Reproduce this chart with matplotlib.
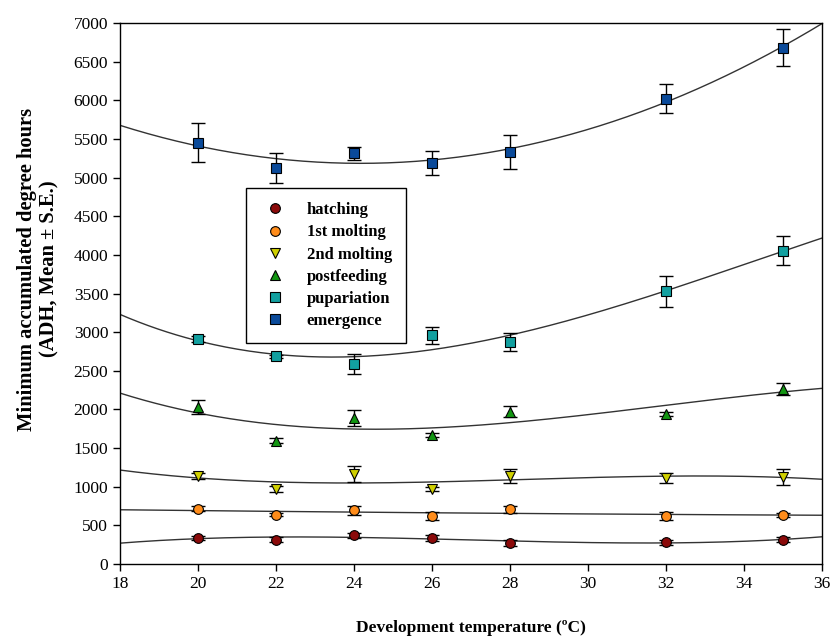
import numpy as np
import matplotlib.pyplot as plt

plt.rcParams['font.family'] = ['Liberation Serif', 'DejaVu Serif']

# Temperaturas de desarrollo (ºC)
temps = np.array([20, 22, 24, 26, 28, 32, 35])

# Medias de ADH por estadio
hatching = [338, 316, 373, 338, 272, 282, 316]
molting1 = [715, 636, 697, 623, 706, 623, 636]
molting2 = [1141, 970, 1167, 970, 1141, 1114, 1128]
postfeeding = [2037, 1596, 1895, 1667, 1973, 1939, 2267]
pupariation = [2911, 2686, 2587, 2957, 2876, 3528, 4054]
emergence = [5449, 5125, 5315, 5190, 5333, 6023, 6680]

# Errores estándar
err_hatching = [30, 30, 30, 40, 40, 30, 30]
err_molting1 = [30, 20, 60, 50, 40, 50, 30]
err_molting2 = [40, 40, 100, 30, 90, 70, 100]
err_postfeeding = [90, 30, 104, 30, 65, 30, 80]
err_pupariation = [43, 20, 127, 108, 114, 200, 188]
err_emergence = [253, 199, 82, 151, 218, 194, 237]

etiquetas = ['hatching', '1st molting', '2nd molting', 'postfeeding', 'pupariation', 'emergence']
series = [hatching, molting1, molting2, postfeeding, pupariation, emergence]
errores = [err_hatching, err_molting1, err_molting2, err_postfeeding, err_pupariation, err_emergence]
grados = [3, 2, 3, 3, 3, 2]  # orden del polinomio de ajuste
colores = ['#8B0A0A', '#FF8C1A', '#D0D000', '#129612', '#12A0A0', '#0A4A9A']
marcadores = ['o', 'o', 'v', '^', 's', 's']

fig = plt.figure(figsize=(8.3, 6.44), dpi=100)
ax = fig.add_axes([0.1446, 0.1242, 0.8458, 0.8401])

x_fit = np.linspace(18, 36, 300)
for y, e, g, c, m, lab in zip(series, errores, grados, colores, marcadores, etiquetas):
    coef = np.polyfit(temps, y, g)
    ax.plot(x_fit, np.polyval(coef, x_fit), color='#333333', lw=1.0, zorder=1)
    ax.errorbar(temps, y, yerr=e, fmt='none', ecolor='black', elinewidth=1.0,
                capsize=5, capthick=1.0, zorder=2)
    ax.plot(temps, y, linestyle='none', marker=m, markersize=7, markerfacecolor=c,
            markeredgecolor='black', markeredgewidth=0.8, label=lab, zorder=3)

ax.set_xlim(18, 36)
ax.set_ylim(0, 7000)
ax.set_xticks(np.arange(18, 37, 2))
ax.set_yticks(np.arange(0, 7001, 500))
ax.tick_params(labelsize=12.5, direction='out', length=5, width=1)
for s in ax.spines.values():
    s.set_linewidth(1.0)

ax.set_xlabel('Development temperature (ºC)', fontsize=12.5, fontweight='bold', labelpad=20)
ax.set_ylabel('Minimum accumulated degree hours\n(ADH, Mean ± S.E.)', fontsize=14.8,
              fontweight='bold', labelpad=10, y=0.545)

leg = ax.legend(loc='upper left', bbox_to_anchor=(0.179, 0.695), borderaxespad=0,
                prop={'weight': 'bold', 'size': 12}, frameon=True, fancybox=False,
                framealpha=1, edgecolor='black', handletextpad=1.0, borderpad=0.85,
                labelspacing=0.37, handlelength=1.8, markerscale=1.0)
leg.get_frame().set_linewidth(1.0)

plt.savefig('out.png', dpi=100)
